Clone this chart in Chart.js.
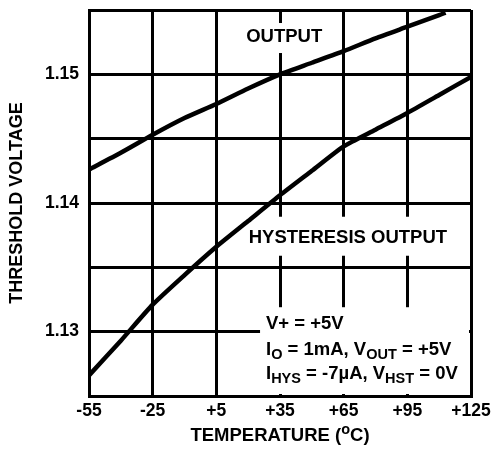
<!DOCTYPE html>
<html><head><meta charset="utf-8">
<script src="https://cdn.jsdelivr.net/npm/chart.js@4/dist/chart.umd.min.js"></script>
<style>html,body{margin:0;padding:0;background:#fff}</style>
</head><body>
<canvas id="c" width="493" height="450"></canvas>
<script>
// ---- data ----
const outputTemps = [-55, -40, -25, -10, 5, 20, 35, 50, 65, 80, 95, 110, 113];
const outputVolts = [1.1426, 1.1439, 1.1453, 1.1466, 1.1477, 1.1489, 1.1500, 1.1509, 1.1518, 1.1528, 1.1537, 1.1546, 1.1548];
const hysTemps = [-55, -40, -25, -10, 5, 20, 35, 50, 65, 80, 95, 110, 125];
const hysVolts = [1.1266, 1.1293, 1.1321, 1.1344, 1.1366, 1.1386, 1.1406, 1.1425, 1.1444, 1.1457, 1.1470, 1.1484, 1.1498];
const xTicks = [-55, -25, 5, 35, 65, 95, 125];
const yGridTicks = [1.125, 1.13, 1.135, 1.14, 1.145, 1.15, 1.155];
const yLabelTicks = [1.13, 1.14, 1.15];
const yTitle = 'THRESHOLD VOLTAGE';
const xTitle = [{t: 'TEMPERATURE ('}, {t: 'o', sup: true}, {t: 'C)'}];
const outputLabel = 'OUTPUT';
const hysLabel = 'HYSTERESIS OUTPUT';
const conditions = [
  [{t: 'V+ = +5V'}],
  [{t: 'I'}, {t: 'O', sub: true}, {t: ' = 1mA, V'}, {t: 'OUT', sub: true}, {t: ' = +5V'}],
  [{t: 'I'}, {t: 'HYS', sub: true}, {t: ' = -7\u00B5A, V'}, {t: 'HST', sub: true}, {t: ' = 0V'}]
];

const FAM = "'Liberation Sans', Arial, Helvetica, sans-serif";
const MAIN = 'bold 18.5px ' + FAM;
const SMALL = 'bold 14.5px ' + FAM;

function richWidth(ctx, segs) {
  let w = 0;
  for (const s of segs) { ctx.font = (s.sub || s.sup) ? SMALL : MAIN; w += ctx.measureText(s.t).width; }
  return w;
}
function drawRich(ctx, segs, x, y) {
  ctx.textBaseline = 'middle';
  ctx.textAlign = 'left';
  for (const s of segs) {
    ctx.font = (s.sub || s.sup) ? SMALL : MAIN;
    const dy = s.sub ? 5 : (s.sup ? -6 : 0);
    ctx.fillText(s.t, x, y + dy);
    x += ctx.measureText(s.t).width;
  }
}

const annotate = {
  id: 'annotate',
  beforeDatasetsDraw(chart) {
    const {ctx, chartArea: ca, scales: {x, y}} = chart;
    ctx.save();
    ctx.fillStyle = '#fff';
    ctx.font = MAIN;
    const ow = ctx.measureText(outputLabel).width;
    const ox = x.getPixelForValue(37), oy = y.getPixelForValue(1.1529);
    ctx.fillRect(ox - ow / 2 - 4, oy - 14, ow + 8, 30);
    const hw = ctx.measureText(hysLabel).width;
    const hx = x.getPixelForValue(67), hy = y.getPixelForValue(1.1373);
    ctx.fillRect(hx - hw / 2 - 4, hy - 21, ca.right - 2 - (hx - hw / 2 - 4), 39);
    const cx = x.getPixelForValue(25.6);
    const cy = y.getPixelForValue(1.1319);
    ctx.fillRect(cx, cy, ca.right - 2 - cx, ca.bottom - 2 - cy);
    ctx.restore();
  },
  afterDatasetsDraw(chart) {
    const {ctx, chartArea: ca, scales: {x, y}} = chart;
    ctx.save();
    ctx.fillStyle = '#000';
    ctx.font = MAIN;
    ctx.textAlign = 'center';
    ctx.textBaseline = 'middle';
    ctx.fillText(outputLabel, x.getPixelForValue(37), y.getPixelForValue(1.1529));
    ctx.fillText(hysLabel, x.getPixelForValue(67), y.getPixelForValue(1.1373));
    const lx = x.getPixelForValue(28.4);
    const lineY = [1.1306, 1.1286, 1.1267];
    conditions.forEach((segs, i) => drawRich(ctx, segs, lx, y.getPixelForValue(lineY[i])));
    const tw = richWidth(ctx, xTitle);
    drawRich(ctx, xTitle, (ca.left + ca.right) / 2 - tw / 2, 436);
    ctx.restore();
  }
};

const tickFont = {family: FAM, size: 17.5, weight: 'bold', lineHeight: 1};

new Chart(document.getElementById('c'), {
  type: 'line',
  data: {
    datasets: [
      {label: 'OUTPUT', data: outputTemps.map((t, i) => ({x: t, y: outputVolts[i]}))},
      {label: 'HYSTERESIS OUTPUT', data: hysTemps.map((t, i) => ({x: t, y: hysVolts[i]}))}
    ]
  },
  options: {
    responsive: false,
    animation: false,
    devicePixelRatio: 1,
    layout: {padding: {left: 0, top: 10, right: 22, bottom: 0}},
    elements: {
      line: {borderColor: '#000', borderWidth: 4.5, tension: 0.2, fill: false},
      point: {radius: 0, hoverRadius: 0}
    },
    plugins: {legend: {display: false}, tooltip: {enabled: false}},
    scales: {
      x: {
        type: 'linear', min: -55, max: 125,
        afterBuildTicks: s => { s.ticks = xTicks.map(v => ({value: v})); },
        afterFit: s => { s.height = 54; s.paddingLeft = 0; s.paddingRight = 0; },
        ticks: {color: '#000', font: tickFont, padding: 6, maxRotation: 0, autoSkip: false,
          callback: v => (v > 0 ? '+' + v : String(v))},
        grid: {color: '#000', lineWidth: 3, drawTicks: false},
        border: {display: true, color: '#000', width: 3}
      },
      y: {
        type: 'linear', min: 1.125, max: 1.155,
        afterBuildTicks: s => { s.ticks = yGridTicks.map(v => ({value: v})); },
        afterFit: s => { s.width = 89; s.paddingTop = 0; s.paddingBottom = 0; },
        ticks: {color: '#000', font: tickFont, padding: 10, autoSkip: false,
          callback: v => (yLabelTicks.some(t => Math.abs(t - v) < 1e-6) ? v.toFixed(2) : '')},
        grid: {color: '#000', lineWidth: 3, drawTicks: false},
        border: {display: true, color: '#000', width: 3},
        title: {display: true, text: yTitle, color: '#000',
          font: {family: FAM, size: 18, weight: 'bold', lineHeight: 1.2}, padding: {top: 6, bottom: 0}}
      }
    }
  },
  plugins: [annotate]
});
</script>
</body></html>
